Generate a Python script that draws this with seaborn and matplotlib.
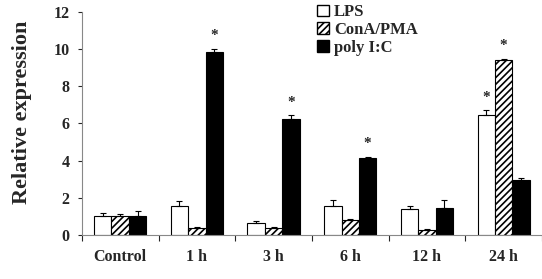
import numpy as np
import pandas as pd
import matplotlib
matplotlib.use("Agg")
import matplotlib.pyplot as plt
import seaborn as sns
from matplotlib.patches import Patch

categories = ["Control", "1 h", "3 h", "6 h", "12 h", "24 h"]
series = ["LPS", "ConA/PMA", "poly I:C"]
lps = [1.0, 1.55, 0.65, 1.55, 1.4, 6.45]
cona = [1.0, 0.35, 0.35, 0.82, 0.27, 9.42]
polyic = [1.0, 9.82, 6.25, 4.15, 1.45, 2.95]
lps_err = [0.2, 0.25, 0.08, 0.35, 0.15, 0.25]
cona_err = [0.1, 0.05, 0.05, 0.05, 0.05, 0.06]
polyic_err = [0.3, 0.2, 0.2, 0.05, 0.45, 0.1]
stars = {("1 h", "poly I:C"), ("3 h", "poly I:C"), ("6 h", "poly I:C"),
         ("24 h", "LPS"), ("24 h", "ConA/PMA")}

vals = {"LPS": lps, "ConA/PMA": cona, "poly I:C": polyic}
errs = {"LPS": lps_err, "ConA/PMA": cona_err, "poly I:C": polyic_err}
rows = []
for s in series:
    for c, v in zip(categories, vals[s]):
        rows.append({"cat": c, "series": s, "val": v})
df = pd.DataFrame(rows)

sns.set_style("white")
plt.rcParams["font.family"] = ["Liberation Serif", "DejaVu Serif"]
plt.rcParams["hatch.linewidth"] = 1.2

fig = plt.figure(figsize=(5.42, 2.79), dpi=100)
ax = fig.add_axes([0.151, 0.158, 0.849, 0.799])

pal = {"LPS": "white", "ConA/PMA": "white", "poly I:C": "black"}
sns.barplot(data=df, x="cat", y="val", hue="series", order=categories,
            hue_order=series, palette=pal, width=0.68, ax=ax,
            edgecolor="black", linewidth=0.8, legend=False)

hatches = {"LPS": "", "ConA/PMA": "/////", "poly I:C": ""}
for s, cont in zip(series, ax.containers):
    for i, bar in enumerate(cont):
        bar.set_hatch(hatches[s])
        x = bar.get_x() + bar.get_width() / 2
        h = bar.get_height()
        e = errs[s][i]
        ax.errorbar(x, h, yerr=[[0], [e]], color="black", capsize=2.5,
                    elinewidth=0.8, capthick=0.8)
        if (categories[i], s) in stars:
            ax.text(x, h + e + 0.35, "*", ha="center", va="bottom",
                    fontsize=11, fontweight="bold")

ax.set_ylim(0, 12)
ax.set_yticks(range(0, 13, 2))
ax.set_xlim(-0.5, 5.5)
ax.set_xlabel("")
ax.set_ylabel("Relative expression", fontsize=16, fontweight="bold")
ax.yaxis.set_label_coords(-0.108, 0.55)
for lab in ax.get_yticklabels() + ax.get_xticklabels():
    lab.set_fontweight("bold")
    lab.set_fontsize(11.5)
ax.tick_params(axis="y", length=3, width=0.8, direction="out", left=True, pad=6)
ax.tick_params(axis="x", length=0, pad=10)
# category boundary ticks on x axis
ax.set_xticks(np.arange(-0.5, 6.0, 1.0), minor=True)
ax.tick_params(axis="x", which="minor", length=4, width=0.8, direction="out", bottom=True)
sns.despine(ax=ax)
for sp in ["left", "bottom"]:
    ax.spines[sp].set_color("#888888")
    ax.spines[sp].set_linewidth(0.8)

handles = [Patch(facecolor="white", edgecolor="black", label="LPS"),
           Patch(facecolor="white", edgecolor="black", hatch="/////", label="ConA/PMA"),
           Patch(facecolor="black", edgecolor="black", label="poly I:C")]
leg = ax.legend(handles=handles, loc="upper left", bbox_to_anchor=(0.497, 1.065),
                frameon=False, prop={"weight": "bold", "size": 12},
                handlelength=0.7, handleheight=0.7, handletextpad=0.3,
                labelspacing=0.1, borderaxespad=0)

fig.savefig("out.png", dpi=100)
